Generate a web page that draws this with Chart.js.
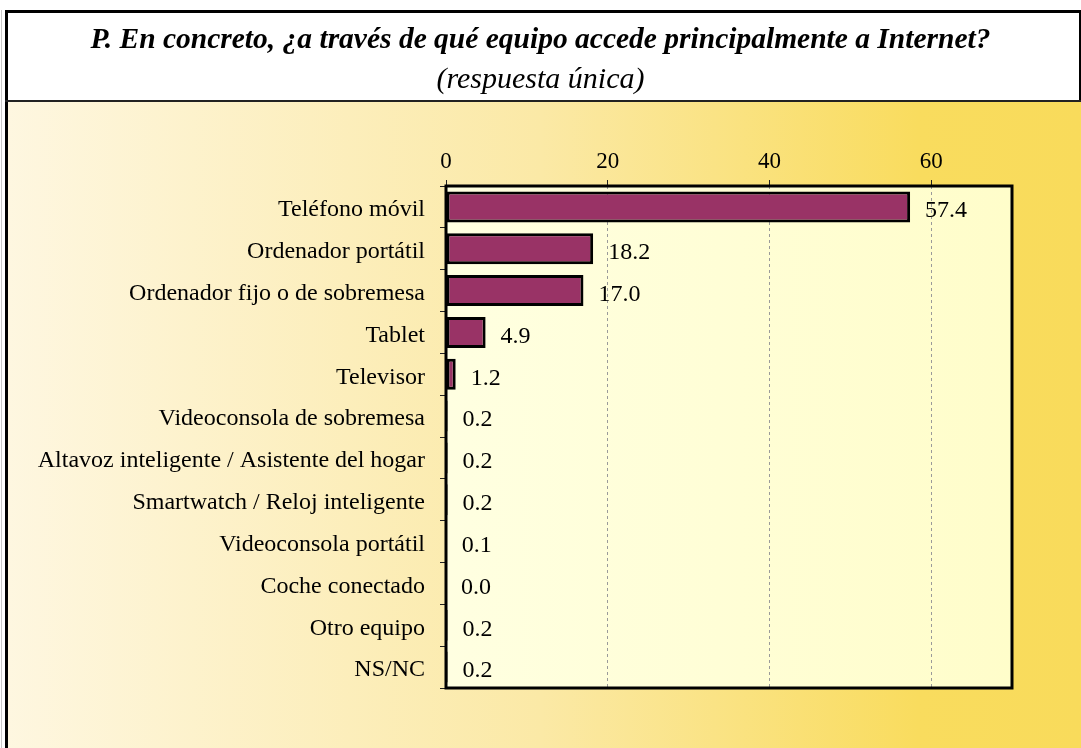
<!DOCTYPE html>
<html>
<head>
<meta charset="utf-8">
<script src="https://cdn.jsdelivr.net/npm/chart.js@4/dist/chart.umd.min.js"></script>
<style>
  html, body { margin: 0; padding: 0; background: #fff; }
</style>
</head>
<body>
<canvas id="bar-chart" width="1081" height="748"></canvas>
<script>
// Chart data
var categories = [
  "Teléfono móvil",
  "Ordenador portátil",
  "Ordenador fijo o de sobremesa",
  "Tablet",
  "Televisor",
  "Videoconsola de sobremesa",
  "Altavoz inteligente / Asistente del hogar",
  "Smartwatch / Reloj inteligente",
  "Videoconsola portátil",
  "Coche conectado",
  "Otro equipo",
  "NS/NC"
];
var values = [57.4, 18.2, 17.0, 4.9, 1.2, 0.2, 0.2, 0.2, 0.1, 0.0, 0.2, 0.2];
var xTicks = [0, 20, 40, 60];
var chartTitle = "P. En concreto, ¿a través de qué equipo accede principalmente a Internet?";
var chartSubtitle = "(respuesta única)";

var serif = "'Liberation Serif', 'Times New Roman', serif";

// Background, title frame and plot area fill
var backdrop = {
  id: "backdrop",
  beforeDraw: function (chart) {
    var ctx = chart.ctx;
    var w = chart.width, h = chart.height;
    var a = chart.chartArea;
    ctx.save();

    var g = ctx.createLinearGradient(0, 0, w, 0);
    g.addColorStop(0, "#FEF7E1");
    g.addColorStop(0.5, "#FBE9A6");
    g.addColorStop(0.85, "#F9DC5E");
    g.addColorStop(1, "#F9DB5B");
    ctx.fillStyle = g;
    ctx.fillRect(0, 0, w, h);

    // white title box and left strip
    ctx.fillStyle = "#ffffff";
    ctx.fillRect(0, 0, w, 101);
    ctx.fillRect(0, 0, 5, h);
    ctx.fillStyle = "#c8c8c8";
    ctx.fillRect(1, 10, 1, h - 10);

    // frame lines
    ctx.fillStyle = "#000";
    ctx.fillRect(5, 10, w - 5, 3);   // top
    ctx.fillRect(5, 10, 3, h - 10);  // left
    ctx.fillRect(w - 2, 10, 2, 92);  // right of title box
    ctx.fillStyle = "#222";
    ctx.fillRect(5, 100, w - 5, 2);  // bottom of title box

    // plot area
    var pg = ctx.createLinearGradient(a.left, 0, a.right, 0);
    pg.addColorStop(0, "#FFFFE1");
    pg.addColorStop(1, "#FFFDCA");
    ctx.fillStyle = pg;
    ctx.fillRect(a.left, a.top, a.right - a.left, a.bottom - a.top);
    ctx.restore();
  },
  afterDraw: function (chart) {
    var ctx = chart.ctx;
    var a = chart.chartArea;
    ctx.save();
    ctx.strokeStyle = "#000";
    ctx.lineWidth = 3;
    ctx.strokeRect(a.left, a.top, a.right - a.left, a.bottom - a.top);
    ctx.restore();
  }
};

// Value labels after each bar
var valueLabels = {
  id: "valueLabels",
  afterDatasetsDraw: function (chart) {
    var ctx = chart.ctx;
    var meta = chart.getDatasetMeta(0);
    ctx.save();
    ctx.font = "24px " + serif;
    ctx.fillStyle = "#000";
    ctx.textAlign = "left";
    ctx.textBaseline = "middle";
    meta.data.forEach(function (bar, i) {
      ctx.fillText(values[i].toFixed(1), bar.x + 15, bar.y + 4);
    });
    ctx.restore();
  }
};

var ctx = document.getElementById("bar-chart").getContext("2d");
var barChart = new Chart(ctx, {
  type: "bar",
  data: {
    labels: categories,
    datasets: [
      {
        data: values,
        backgroundColor: "#993366",
        borderColor: "#000",
        borderWidth: 3,
        borderSkipped: false,
        barPercentage: 0.74,
        categoryPercentage: 1
      }
    ]
  },
  options: {
    indexAxis: "y",
    responsive: false,
    animation: false,
    layout: {
      padding: { top: 0, left: 0, right: 0, bottom: 60 }
    },
    plugins: {
      legend: { display: false },
      tooltip: { enabled: false },
      title: {
        display: true,
        text: chartTitle,
        color: "#000",
        font: { family: serif, size: 29.5, style: "italic", weight: "bold" },
        padding: { top: 23, bottom: 0 }
      },
      subtitle: {
        display: true,
        text: chartSubtitle,
        color: "#000",
        font: { family: serif, size: 30, style: "italic", weight: "normal" },
        padding: { top: 3.6, bottom: 8 }
      }
    },
    scales: {
      x: {
        type: "linear",
        position: "top",
        min: 0,
        max: 70,
        afterBuildTicks: function (scale) {
          scale.ticks = xTicks.map(function (v) { return { value: v }; });
        },
        afterFit: function (scale) {
          scale.height = 80;
        },
        ticks: {
          color: "#000",
          font: { family: serif, size: 23 },
          padding: 4,
          maxRotation: 0
        },
        grid: {
          color: function (c) {
            return c.tick && c.tick.value === 0 ? "rgba(0,0,0,0)" : "#9a9a9a";
          },
          lineWidth: 1,
          tickLength: 6,
          tickColor: "#222",
          tickBorderDash: []
        },
        border: { display: false, dash: [3, 3] }
      },
      y: {
        type: "category",
        afterFit: function (scale) {
          scale.width = 446;
        },
        ticks: {
          color: "#000",
          font: { family: serif, size: 24 },
          padding: 15,
          labelOffset: 3,
          autoSkip: false
        },
        grid: {
          drawOnChartArea: false,
          offset: true,
          tickLength: 6,
          tickColor: "#222"
        },
        border: { display: false }
      },
      // empty axis on the right, only keeps the gap beside the plot
      gap: {
        type: "linear",
        position: "right",
        display: true,
        afterFit: function (scale) {
          scale.width = 69;
        },
        ticks: { display: false },
        grid: { display: false },
        border: { display: false }
      }
    }
  },
  plugins: [backdrop, valueLabels]
});
</script>
</body>
</html>
